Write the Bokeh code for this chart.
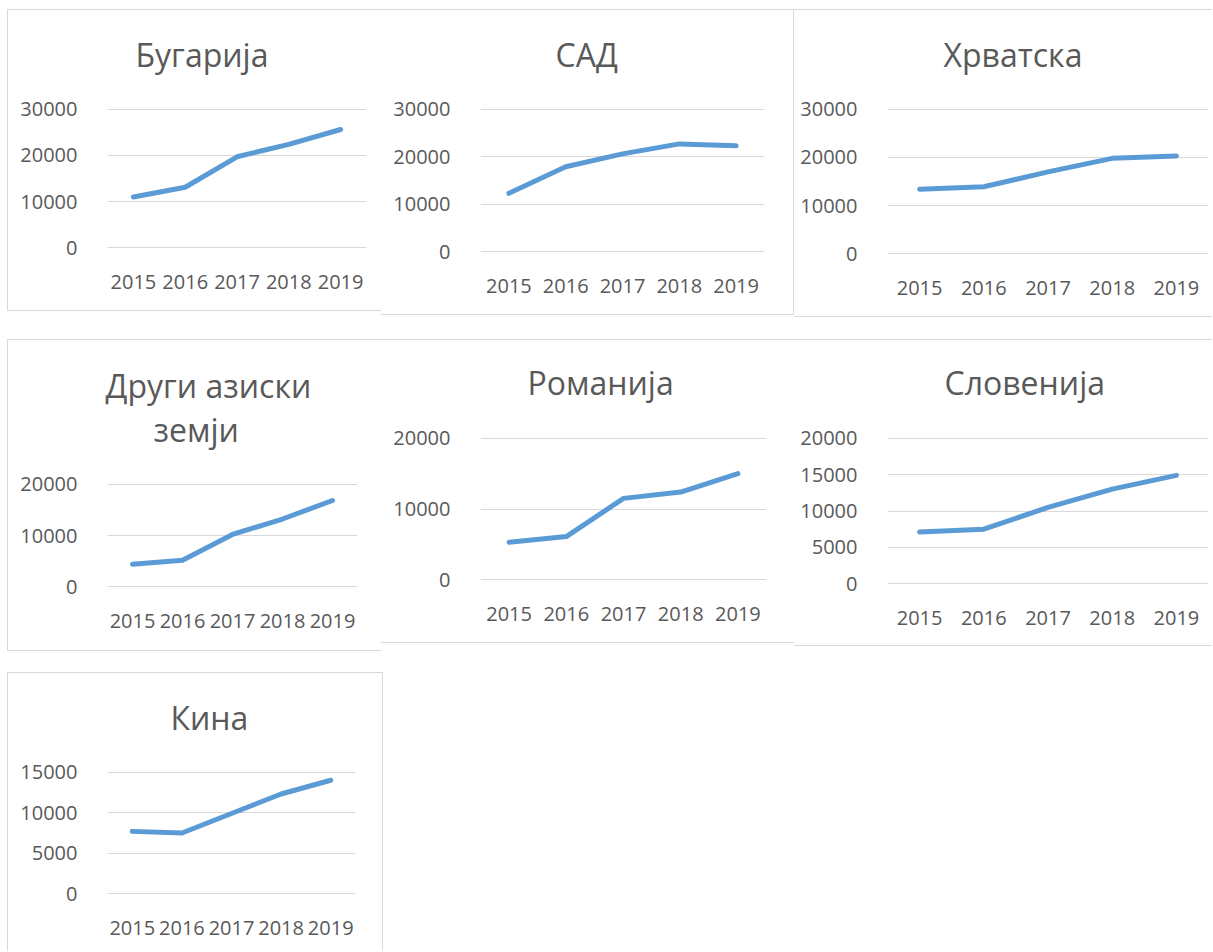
from bokeh.plotting import figure
from bokeh.models import FixedTicker, Title, Range1d, FactorRange, Spacer
from bokeh.layouts import row, column
from bokeh.embed import file_html
from bokeh.resources import INLINE

years = ["2015", "2016", "2017", "2018", "2019"]

bugarija = [11000, 13100, 19700, 22400, 25600]
sad = [12300, 17900, 20600, 22700, 22300]
hrvatska = [13400, 13900, 17000, 19800, 20300]
drugi = [4400, 5200, 10200, 13200, 16800]
romanija = [5300, 6100, 11500, 12400, 15000]
slovenija = [7100, 7500, 10500, 13000, 14900]
kina = [7700, 7500, 9900, 12300, 14000]

titles = [["Бугарија"], ["САД"], ["Хрватска"], ["Други азиски", "земји"],
          ["Романија"], ["Словенија"], ["Кина"]]
ticks_30k = [0, 10000, 20000, 30000]
ticks_20k = [0, 10000, 20000]
ticks_20k_5 = [0, 5000, 10000, 15000, 20000]
ticks_15k_5 = [0, 5000, 10000, 15000]

FONT = "Open Sans"
TXT = "#595959"
GRID = "#d9d9d9"
LINE = "#5b9bd5"

# layout specs (page px): x0, w, h, borders (l, r, t, b), border sides,
# title left edge per line, gap between frame top and title block
specs = [
    dict(data=bugarija, ticks=ticks_30k, x0=7, w=374, h=302, b=(100, 15, 99, 63),
         sides="tlb", tlx=[135], gap=30),
    dict(data=sad, ticks=ticks_30k, x0=381, w=413, h=306, b=(99, 30, 99, 63),
         sides="trb", tlx=[555], gap=30),
    dict(data=hrvatska, ticks=ticks_30k, x0=794, w=418, h=308, b=(93, 4, 99, 63),
         sides="tb", tlx=[943], gap=30),
    dict(data=drugi, ticks=ticks_20k, x0=7, w=374, h=312, b=(100, 24, 144, 64),
         sides="tlb", tlx=[105, 153], gap=30),
    dict(data=romanija, ticks=ticks_20k, x0=381, w=413, h=304, b=(99, 28, 98, 63),
         sides="tb", tlx=[527], gap=31),
    dict(data=slovenija, ticks=ticks_20k_5, x0=794, w=418, h=307, b=(93, 4, 98, 62),
         sides="tb", tlx=[944], gap=31),
    dict(data=kina, ticks=ticks_15k_5, x0=7, w=376, h=279, b=(100, 28, 99, 57),
         sides="tlr", tlx=[170], gap=30),
]


def shadow(sides):
    parts = []
    if "t" in sides:
        parts.append(f"inset 0 1px 0 {GRID}")
    if "b" in sides:
        parts.append(f"inset 0 -1px 0 {GRID}")
    if "l" in sides:
        parts.append(f"inset 1px 0 0 {GRID}")
    if "r" in sides:
        parts.append(f"inset -1px 0 0 {GRID}")
    return ", ".join(parts)


figs = []
for spec, ttl in zip(specs, titles):
    l, r, t, b = spec["b"]
    top = max(spec["ticks"])
    eps = top * 0.005
    p = figure(x_range=FactorRange(*years, range_padding=0),
               y_range=Range1d(-eps, top + eps),
               width=spec["w"], height=spec["h"], output_backend="svg",
               toolbar_location=None, title_location=None,
               min_border_left=l, min_border_right=r,
               min_border_top=t, min_border_bottom=b,
               background_fill_color=None, border_fill_color=None,
               outline_line_color=None,
               styles={"box-shadow": shadow(spec["sides"])})
    p.line(years, spec["data"], line_color=LINE, line_width=5,
           line_cap="round", line_join="round")
    p.xgrid.grid_line_color = None
    p.ygrid.grid_line_color = GRID
    p.ygrid.grid_line_width = 1
    p.yaxis.ticker = FixedTicker(ticks=spec["ticks"])
    for ax in (p.xaxis[0], p.yaxis[0]):
        ax.axis_line_color = None
        ax.major_tick_line_color = None
        ax.minor_tick_line_color = None
        ax.major_label_text_font = FONT
        ax.major_label_text_font_size = "20px"
        ax.major_label_text_color = TXT
    p.yaxis.major_label_standoff = 24
    p.xaxis.major_label_standoff = 20

    frame_left = spec["x0"] + l
    # invisible spacer between frame and title block
    p.add_layout(Title(text=" ", text_font_size="1px", standoff=spec["gap"]), "above")
    # the line nearest the frame is added first
    lines = list(zip(ttl, spec["tlx"]))[::-1]
    for i, (txt, lx) in enumerate(lines):
        p.add_layout(Title(text=txt, align="left", offset=lx - frame_left,
                           text_font=FONT, text_font_size="32px",
                           text_font_style="normal", text_color=TXT,
                           standoff=0 if i == 0 else -3), "above")
    figs.append(p)

# each figure wrapped on its own so that frames are not aligned across a row
cells = [column(f, spacing=0) for f in figs]

layout = column(
    Spacer(height=9),
    row(Spacer(width=7), cells[0], cells[1], cells[2], spacing=0),
    Spacer(height=22),
    row(Spacer(width=7), cells[3], cells[4], cells[5], spacing=0),
    Spacer(height=21),
    row(Spacer(width=7), cells[6], spacing=0),
    spacing=0,
)

open("out.html", "w").write(file_html(layout, INLINE))
